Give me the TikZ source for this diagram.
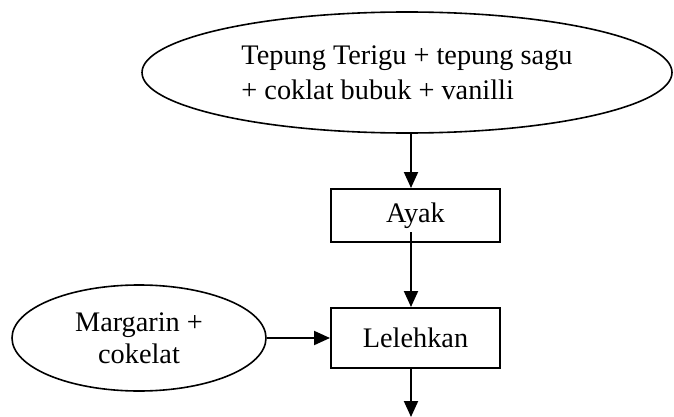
\documentclass[tikz,border=0pt]{standalone}
\usepackage{fontspec}
\setmainfont{Liberation Serif}
\usetikzlibrary{shapes.geometric,arrows.meta}
\begin{document}
\begin{tikzpicture}[x=1pt,y=-1pt,
  every node/.style={font=\fontsize{28.3}{35}\selectfont},
  ell/.style={draw,ellipse,line width=1.6pt,inner sep=0pt,align=left},
  procbox/.style={draw,rectangle,line width=2pt,inner sep=0pt,minimum width=169pt},
  arr/.style={line width=2pt,-{Triangle[length=16pt,width=14pt]}}]
\useasboundingbox (0,0) rectangle (674,417);
\node[ell,minimum width=530pt,minimum height=121pt] (bahan) at (407,72.5)
  {Tepung Terigu + tepung sagu\\+ coklat bubuk + vanilli};
\node[procbox,minimum height=53pt] (ayak) at (415.5,215.5) {Ayak};
\node[procbox,minimum height=60pt] (lel) at (415.5,338) {Lelehkan};
\node[ell,align=center,minimum width=254pt,minimum height=106pt,
  font=\fontsize{28.3}{32}\selectfont] (marg) at (139,338)
  {Margarin +\\cokelat};
\coordinate (end) at (411,417);
\draw[arr] (411,133) -- (ayak.north -| 411,0);
\draw[arr] ([yshift=11pt]ayak.south -| 411,0) -- (lel.north -| 411,0);
\draw[arr] (marg.east) -- (lel.west);
\draw[arr] (lel.south -| 411,0) -- (end);
\end{tikzpicture}
\end{document}
